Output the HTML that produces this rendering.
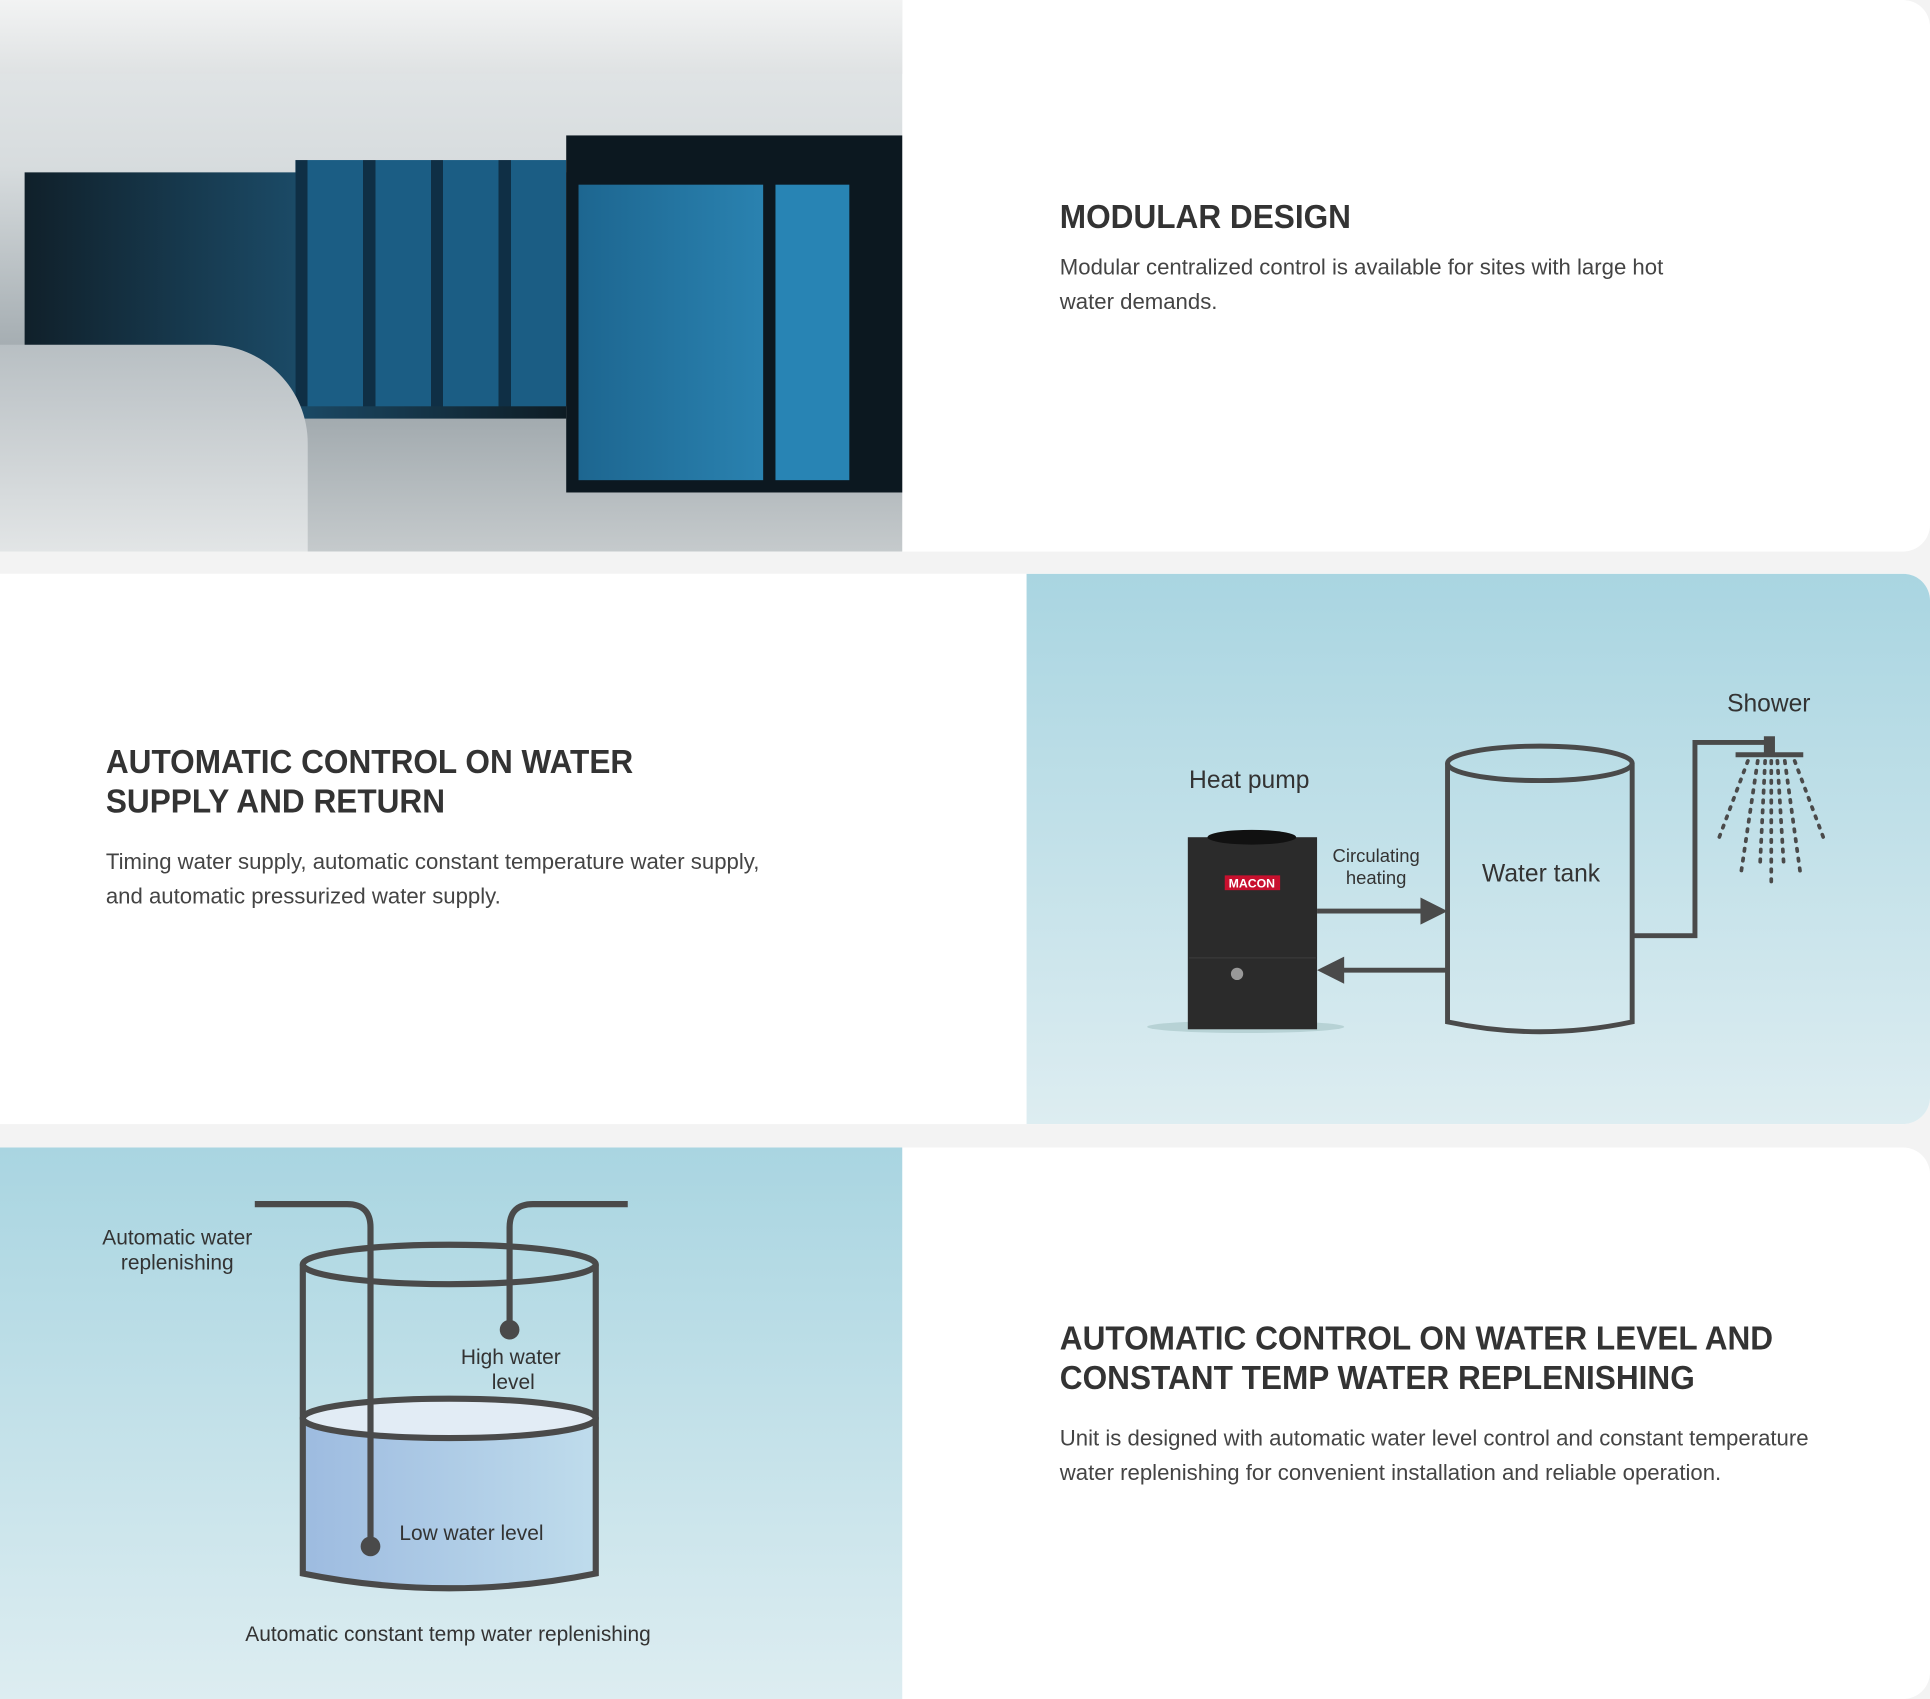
<!DOCTYPE html>
<html><head><meta charset="utf-8">
<style>
html,body{margin:0;padding:0;width:1930px;height:1699px;overflow:hidden;background:#f3f3f3}
#w{position:absolute;left:0;top:0;width:1568px;height:1380px;transform:scale(1.2309,1.2312);transform-origin:0 0;font-family:"Liberation Sans","DejaVu Sans",sans-serif}
.card{position:absolute;left:0;width:1568px;background:#fff;border-radius:0 22px 22px 0;overflow:hidden}
.h{position:absolute;font-weight:bold;font-size:27px;color:#333;line-height:32px;letter-spacing:0;transform:scaleX(0.95);transform-origin:0 0;white-space:nowrap}
.p{position:absolute;font-size:18px;color:#444;line-height:27.5px}
.blue{position:absolute;background:linear-gradient(#a9d5e1,#ddedf1)}
svg text{font-family:"Liberation Sans","DejaVu Sans",sans-serif;fill:#333}
</style></head><body><div id="w">
<div class="card" style="top:0;height:448px">
 <div style="position:absolute;left:0;top:0;width:733px;height:448px;background:linear-gradient(#e6e9ea 0,#d7dcde 30%,#9aa3a8 70%,#c5cacc 100%)">
  <div style="position:absolute;left:20px;top:140px;width:440px;height:200px;background:linear-gradient(90deg,#10202a,#1b4a66 50%,#0e1c24)"></div>
  <div style="position:absolute;left:240px;top:130px;width:220px;height:200px;background:repeating-linear-gradient(90deg,#0f2f45 0 10px,#1b5d84 10px 55px)"></div>
  <div style="position:absolute;left:460px;top:110px;width:273px;height:290px;background:#0c1820"></div>
  <div style="position:absolute;left:470px;top:150px;width:150px;height:240px;background:linear-gradient(90deg,#1d6690,#2a82b0)"></div>
  <div style="position:absolute;left:630px;top:150px;width:60px;height:240px;background:#2884b4"></div>
  <div style="position:absolute;left:0;top:280px;width:250px;height:168px;background:linear-gradient(#b8bfc3,#e2e5e6);border-radius:0 80px 0 0"></div>
  <div style="position:absolute;left:0;top:0;width:733px;height:60px;background:linear-gradient(#f2f3f3,#dfe2e3)"></div>
 </div>
 <div class="h" style="left:861px;top:160px">MODULAR DESIGN</div>
 <div class="p" style="left:861px;top:204px">Modular centralized control is available for sites with large hot<br>water demands.</div>
</div>

<div class="card" style="top:466px;height:447px">
 <div class="blue" style="left:834px;top:0;width:734px;height:447px"></div>
 <div class="h" style="left:86px;top:137px">AUTOMATIC CONTROL ON WATER<br>SUPPLY AND RETURN</div>
 <div class="p" style="left:86px;top:221px">Timing water supply, automatic constant temperature water supply,<br>and automatic pressurized water supply.</div>
</div>

<div class="card" style="top:932px;height:448px">
 <div class="blue" style="left:0;top:0;width:733px;height:448px"></div>
 <div class="h" style="left:861px;top:139px">AUTOMATIC CONTROL ON WATER LEVEL AND<br>CONSTANT TEMP WATER REPLENISHING</div>
 <div class="p" style="left:861px;top:223px">Unit is designed with automatic water level control and constant temperature<br>water replenishing for convenient installation and reliable operation.</div>
</div>

<svg style="position:absolute;left:0;top:0" width="1568" height="1380">
 <defs>
  <linearGradient id="wat" x1="0" x2="1"><stop offset="0" stop-color="#9dbbe0"/><stop offset="1" stop-color="#bfdcec"/></linearGradient>
 </defs>
 <text x="966" y="640" font-size="20">Heat pump</text>
 <ellipse cx="1012" cy="834" rx="80" ry="5" fill="#9bb" opacity="0.5"/>
 <rect x="965" y="680" width="105" height="156" fill="#2b2b2b"/>
 <ellipse cx="1017" cy="680" rx="36" ry="6" fill="#111"/>
 <rect x="995" y="711" width="45" height="12" fill="#c8102e"/>
 <text x="1017" y="721" font-size="10" font-weight="bold" text-anchor="middle" style="fill:#fff">MACON</text>
 <line x1="966" y1="778" x2="1069" y2="778" stroke="#3a3a3a"/>
 <circle cx="1005" cy="791" r="5" fill="#999"/>
 <text x="1118" y="700" font-size="15" text-anchor="middle">Circulating</text>
 <text x="1118" y="718" font-size="15" text-anchor="middle">heating</text>
 <g stroke="#4a4a4a" stroke-width="4" fill="none">
  <line x1="1070" y1="740" x2="1160" y2="740"/>
  <line x1="1176" y1="788" x2="1086" y2="788"/>
  <path d="M1176,620 V830 Q1251,846 1326,830 V620"/>
  <ellipse cx="1251" cy="620" rx="75" ry="14"/>
  <path d="M1326,760 H1377 V603 H1437"/>
  <line x1="1410" y1="613" x2="1465" y2="613"/>
 </g>
 <path d="M1154,729 L1176,740 L1154,751 Z" fill="#4a4a4a"/>
 <path d="M1092,777 L1070,788 L1092,799 Z" fill="#4a4a4a"/>
 <rect x="1433" y="598" width="9" height="14" fill="#4a4a4a"/>
 <g stroke="#4a4a4a" stroke-width="3" stroke-dasharray="2,6" fill="none" stroke-linecap="round">
  <line x1="1420" y1="618" x2="1396" y2="682"/><line x1="1428" y1="618" x2="1414" y2="712"/>
  <line x1="1434" y1="618" x2="1430" y2="700"/><line x1="1439" y1="618" x2="1439" y2="722"/>
  <line x1="1444" y1="618" x2="1449" y2="700"/><line x1="1450" y1="618" x2="1463" y2="712"/>
  <line x1="1458" y1="618" x2="1482" y2="682"/>
 </g>
 <text x="1252" y="716" font-size="20" text-anchor="middle">Water tank</text>
 <text x="1437" y="578" font-size="20" text-anchor="middle">Shower</text>

 <path d="M246,1152 V1278 Q365,1302 484,1278 V1152 Z" fill="url(#wat)"/>
 <ellipse cx="365" cy="1152" rx="119" ry="16" fill="#e2ecf5"/>
 <g stroke="#4a4a4a" stroke-width="5" fill="none">
  <path d="M246,1027 V1278 Q365,1302 484,1278 V1027"/>
  <ellipse cx="365" cy="1027" rx="119" ry="16"/>
  <ellipse cx="365" cy="1152" rx="119" ry="16"/>
  <path d="M207,978 H282 Q301,978 301,997 V1256"/>
  <path d="M510,978 H433 Q414,978 414,997 V1080"/>
 </g>
 <circle cx="301" cy="1256" r="8" fill="#4a4a4a"/>
 <circle cx="414" cy="1080" r="8" fill="#4a4a4a"/>
 <text x="144" y="1011" font-size="17" text-anchor="middle">Automatic water</text>
 <text x="144" y="1031" font-size="17" text-anchor="middle">replenishing</text>
 <text x="415" y="1108" font-size="17" text-anchor="middle">High water</text>
 <text x="417" y="1128" font-size="17" text-anchor="middle">level</text>
 <text x="383" y="1251" font-size="17" text-anchor="middle">Low water level</text>
 <text x="364" y="1333" font-size="17" text-anchor="middle">Automatic constant temp water replenishing</text>
</svg>
</div></body></html>
